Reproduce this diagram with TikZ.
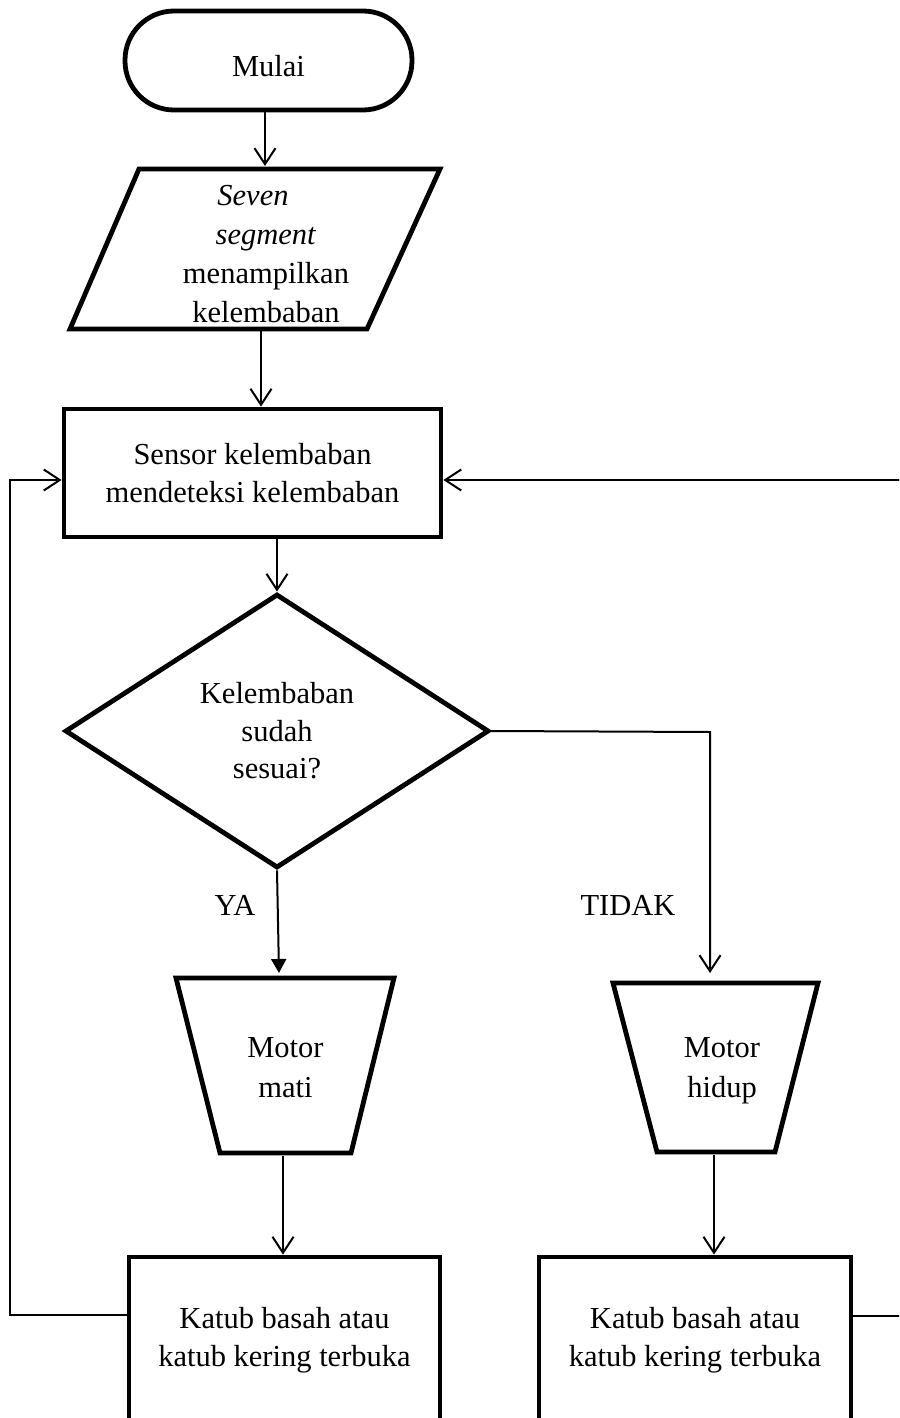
\documentclass[tikz,border=0pt]{standalone}
\usepackage{fontspec}
\setmainfont{Liberation Serif}
\usetikzlibrary{arrows.meta,shapes.geometric}
\begin{document}
\begin{tikzpicture}[x=1pt,y=-1pt,
  shp/.style={draw,line width=4.8pt},
  txt/.style={font=\fontsize{30.5}{37.5}\selectfont, align=center, inner sep=0pt},
  conn/.style={line width=2pt,-{Straight Barb[length=16pt,width=21pt]}},
  connfill/.style={line width=2pt,-{Triangle[length=14pt,width=15pt]}}]
\useasboundingbox (0,0) rectangle (899,1418);
\clip (0,0) rectangle (899,1418);

% start
\node[shp, txt, rounded corners=49pt, minimum width=287pt, minimum height=99pt] (mulai) at (268.5,60.5) {\raisebox{-5pt}[\height][0pt]{Mulai}};

% input / output parallelogram
\node[txt, font=\fontsize{30.5}{38.7}\selectfont] (para) at (266,254) {\textit{Seven}\hspace*{26pt}\\\textit{segment}\hspace*{26pt}\\menampilkan\\kelembaban};
\draw[shp] (139,169) -- (440,169) -- (367,329) -- (70,329) -- cycle;
\coordinate (pTop) at (265,166);
\coordinate (pBot) at (261,331);

% sensor
\node[shp, txt, minimum width=377pt, minimum height=128pt] (sensor) at (252.5,473) {Sensor kelembaban\\mendeteksi kelembaban};

% decision
\node[shp, txt, diamond, minimum width=424pt, minimum height=274pt] (dia) at (277,731) {Kelembaban\\sudah\\sesuai?};

% manual operations (trapezoids)
\node[txt, font=\fontsize{30.5}{40}\selectfont] (mati) at (285.5,1068) {Motor\\mati};
\draw[shp] (176,978) -- (394,978) -- (351,1153) -- (220,1153) -- cycle;
\coordinate (matiTop) at (279,973);
\coordinate (matiBot) at (283,1156);

\node[txt, font=\fontsize{30.5}{40}\selectfont] (hidup) at (722,1071) {Motor\\hidup};
\draw[shp] (613,983) -- (818,983) -- (775,1152) -- (657,1152) -- cycle;
\coordinate (hidupTop) at (710,973);
\coordinate (hidupBot) at (714,1155);

% valves
\node[shp, txt, minimum width=311pt, minimum height=166pt] (kl) at (284.5,1340) {Katub basah atau\\katub kering terbuka};
\node[shp, txt, minimum width=312pt, minimum height=166pt] (kr) at (695,1340) {Katub basah atau\\katub kering terbuka};

% labels
\node[txt, anchor=base] (ya) at (235,915) {YA};
\node[txt, anchor=base] (tidak) at (628,915) {TIDAK};

% connectors
\draw[conn] (mulai.south -| pTop) -- (pTop);
\draw[conn] (pBot) -- (sensor.north -| pBot);
\draw[conn] (sensor.south -| dia.north) -- (dia.north);
\draw[connfill] (dia.south) -- (matiTop);
\coordinate (tCorner) at (710,732);
\draw[conn] (dia.east) -- (tCorner) -- (hidupTop);
\draw[conn] (matiBot) -- (kl.north -| matiBot);
\draw[conn] (hidupBot) -- (kr.north -| hidupBot);

\coordinate (lb) at (10,1315);
\coordinate (lt) at (10,480);
\draw[conn] (lb -| kl.west) -- (lb) -- (lt) -- (lt -| sensor.west);
\coordinate (rb) at (910,1316);
\coordinate (rt) at (910,480);
\draw[conn] (rb -| kr.east) -- (rb) -- (rt) -- (rt -| sensor.east);
\end{tikzpicture}
\end{document}
